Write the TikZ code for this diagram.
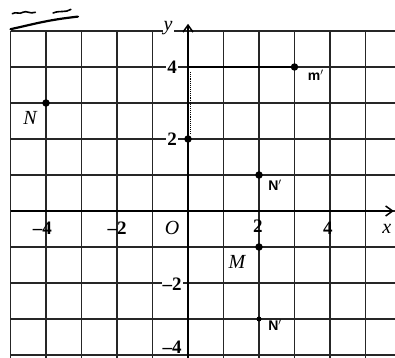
\documentclass[tikz,border=0pt]{standalone}
\usepackage{fontspec}
\setmainfont{Liberation Serif}
\setsansfont{Liberation Sans}
\usetikzlibrary{arrows.meta}
\tikzset{
  gridline/.style={line width=1.4pt, black!85},
  axisline/.style={line width=1.8pt, -{Straight Barb[length=7pt,width=10pt,line width=1.5pt]}},
  ticklab/.style={font=\fontsize{19}{19}\selectfont\bfseries, inner sep=1pt},
  ylab/.style={ticklab, fill=white},
  ptlab/.style={font=\fontsize{20}{20}\selectfont\itshape, inner sep=1pt},
  handlab/.style={font=\fontsize{14}{14}\selectfont\sffamily\bfseries, inner sep=1pt},
  bigdot/.style={circle, fill=black, inner sep=0pt, minimum size=7.5pt},
  smalldot/.style={circle, fill=black, inner sep=0pt, minimum size=5pt},
  scribble/.style={line width=2.2pt, line cap=round}
}
\begin{document}
\begin{tikzpicture}[x=35.5pt, y=36pt]
\useasboundingbox (-5.296,-4.083) rectangle (5.831,5.861);
% grid
\foreach \i in {-5,...,5} \draw[gridline] (\i,-4.083) -- (\i,5);
\foreach \j in {-4,...,5} \draw[gridline] (-5,\j) -- (5.831,\j);
% axes
\coordinate (xs) at (-5,0);
\coordinate (xe) at (5.8,0);
\coordinate (ys) at (0,-4.083);
\coordinate (ye) at (0,5.2);
\draw[axisline] (xs) -- (xe);
\draw[axisline] (ys) -- (ye);
% handwritten strokes
\coordinate (h1) at (0,4);
\coordinate (h2) at (3,4);
\draw[line width=1.9pt] (h1) -- (h2);
\coordinate (v1) at (0.07,2.15);
\coordinate (v2) at (0.07,3.85);
\draw[line width=0.9pt, densely dotted] (v1) -- (v2);
\draw[scribble] (-5.0,5.05) .. controls (-4.3,5.2) and (-4.0,5.3) .. (-3.1,5.4);
\draw[line width=1.6pt, line cap=round] (-4.95,5.48) .. controls (-4.85,5.55) and (-4.75,5.45) .. (-4.65,5.52) .. controls (-4.55,5.58) and (-4.45,5.46) .. (-4.3,5.52);
\draw[line width=1.6pt, line cap=round] (-3.8,5.5) .. controls (-3.6,5.58) and (-3.45,5.5) .. (-3.3,5.6);
% tick labels on x axis
\node[ticklab] (xm4) at (-4.1,-0.47) {–4};
\node[ticklab] (xm2) at (-2.0,-0.47) {–2};
\node[ptlab] (O) at (-0.45,-0.47) {O};
\node[ticklab] (x2) at (1.97,-0.42) {2};
\node[ticklab] (x4) at (3.94,-0.47) {4};
\node[ptlab] (xl) at (5.6,-0.5) {x};
% tick labels on y axis
\node[ylab] (y4) at (-0.45,4) {4};
\node[ylab] (y2) at (-0.45,2) {2};
\node[ylab] (ym2) at (-0.45,-2.03) {–2};
\node[ylab] (ym4) at (-0.45,-3.78) {–4};
\node[ptlab, fill=white] (yl) at (-0.56,5.07) {y};
% points
\node[bigdot] (N) at (-4,3) {};
\node[bigdot] (P2) at (0,2) {};
\node[bigdot] (Mp) at (3,4) {};
\node[bigdot] (Np1) at (2,1) {};
\node[bigdot] (M) at (2,-1) {};
\node[smalldot] (Np2) at (2,-3) {};
% point labels
\node[ptlab] (Nl) at (-4.45,2.58) {N};
\node[ptlab] (Ml) at (1.38,-1.42) {M};
\node[handlab] (Mpl) at (3.6,3.78) {m$'$};
\node[handlab] (Np1l) at (2.45,0.72) {N$'$};
\node[handlab] (Np2l) at (2.45,-3.17) {N$'$};
\end{tikzpicture}
\end{document}
